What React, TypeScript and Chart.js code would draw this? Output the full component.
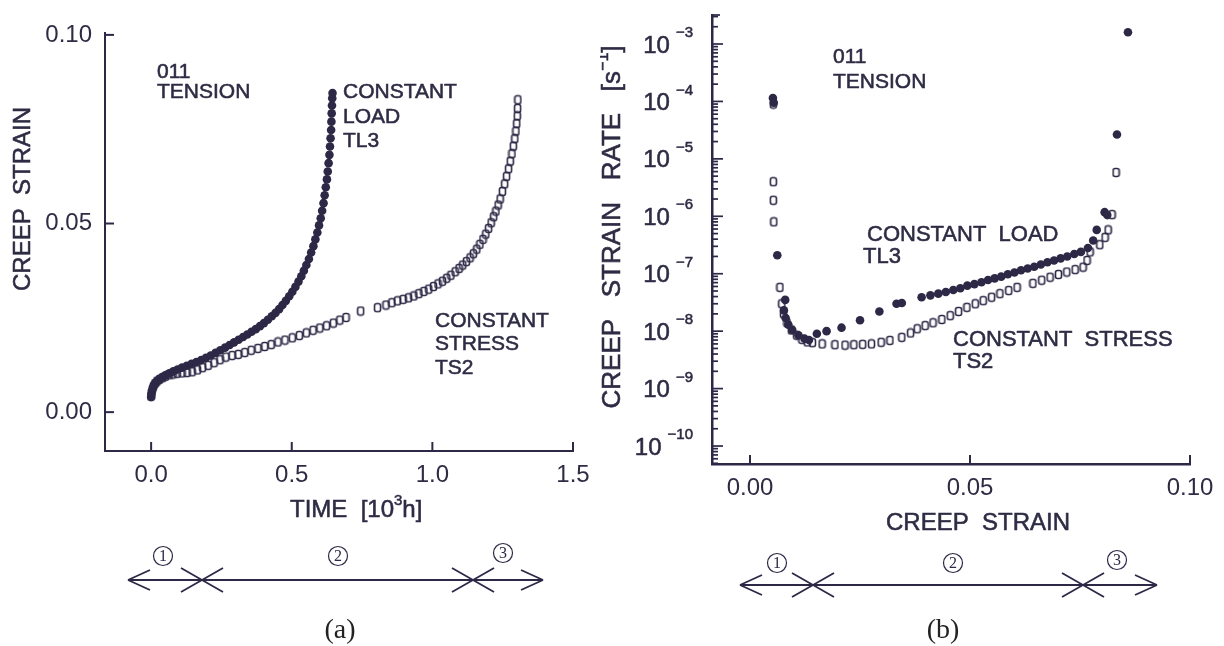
import { useEffect, useRef } from 'react';
import { Chart, registerables } from 'chart.js';

Chart.register(...registerables);

const INK = '#2c2846';
const TEXT = '#2e2c44';
const SANS = '"Liberation Sans", Arial, Helvetica, sans-serif';
const SERIF = '"Liberation Serif", "Times New Roman", serif';

// ---------- (a) creep strain vs time [10^3 h] ----------
const timeTicks = [0, 0.5, 1.0, 1.5];
const strainTicks = [0, 0.05, 0.1];

// constant load, TL3: [time, creep strain]
const loadCurve: [number, number][] = [
  [0.000, 0.0040], [0.001, 0.0048], [0.003, 0.0056], [0.006, 0.0064], [0.010, 0.0071],
  [0.015, 0.0077], [0.022, 0.0083], [0.031, 0.0088], [0.041, 0.0093], [0.052, 0.0098],
  [0.065, 0.0103], [0.079, 0.0108], [0.094, 0.0113], [0.110, 0.0118], [0.127, 0.0123],
  [0.144, 0.0128], [0.161, 0.0133], [0.178, 0.0138], [0.195, 0.0144], [0.212, 0.0150],
  [0.229, 0.0157], [0.246, 0.0164], [0.263, 0.0171], [0.279, 0.0178], [0.295, 0.0185],
  [0.311, 0.0192], [0.327, 0.0199], [0.342, 0.0206], [0.357, 0.0213], [0.372, 0.0220],
  [0.387, 0.0228], [0.401, 0.0236], [0.415, 0.0245], [0.429, 0.0254], [0.442, 0.0263],
  [0.455, 0.0273], [0.467, 0.0284], [0.479, 0.0295], [0.491, 0.0307], [0.502, 0.0319],
  [0.513, 0.0332], [0.524, 0.0346], [0.534, 0.0360], [0.543, 0.0375], [0.552, 0.0390],
  [0.561, 0.0406], [0.569, 0.0423], [0.577, 0.0440], [0.584, 0.0458], [0.591, 0.0476],
  [0.597, 0.0495], [0.603, 0.0514], [0.608, 0.0534], [0.613, 0.0554], [0.617, 0.0575],
  [0.621, 0.0596], [0.625, 0.0617], [0.628, 0.0638], [0.631, 0.0660], [0.634, 0.0682],
  [0.636, 0.0704], [0.638, 0.0726], [0.640, 0.0748], [0.641, 0.0770], [0.642, 0.0792],
  [0.643, 0.0813], [0.644, 0.0832], [0.645, 0.0846],
];

// constant stress, TS2: [time, creep strain]
const stressCurve: [number, number][] = [
  [0.000, 0.0042], [0.002, 0.0052], [0.005, 0.0061], [0.009, 0.0069], [0.014, 0.0076],
  [0.021, 0.0082], [0.030, 0.0087], [0.040, 0.0091], [0.051, 0.0095], [0.064, 0.0099],
  [0.078, 0.0101], [0.093, 0.0103], [0.110, 0.0104], [0.128, 0.0105], [0.146, 0.0107],
  [0.165, 0.0112], [0.183, 0.0118], [0.203, 0.0124], [0.224, 0.0131], [0.245, 0.0139],
  [0.266, 0.0146], [0.288, 0.0150], [0.310, 0.0153], [0.333, 0.0158], [0.356, 0.0164],
  [0.380, 0.0169], [0.404, 0.0174], [0.427, 0.0179], [0.451, 0.0186], [0.476, 0.0191],
  [0.502, 0.0197], [0.527, 0.0203], [0.552, 0.0210], [0.576, 0.0217], [0.600, 0.0223],
  [0.624, 0.0229], [0.648, 0.0236], [0.671, 0.0244], [0.693, 0.0251], [0.745, 0.0268],
  [0.805, 0.0277], [0.835, 0.0284], [0.856, 0.0290], [0.876, 0.0295], [0.896, 0.0299],
  [0.915, 0.0303], [0.934, 0.0308], [0.952, 0.0314], [0.970, 0.0320], [0.987, 0.0326],
  [1.004, 0.0333], [1.020, 0.0340], [1.036, 0.0347], [1.051, 0.0355], [1.066, 0.0363],
  [1.081, 0.0372], [1.095, 0.0381], [1.108, 0.0390], [1.121, 0.0399], [1.134, 0.0409],
  [1.146, 0.0420], [1.158, 0.0432], [1.169, 0.0445], [1.180, 0.0458], [1.190, 0.0472],
  [1.200, 0.0487], [1.209, 0.0502], [1.218, 0.0518], [1.226, 0.0533], [1.234, 0.0549],
  [1.241, 0.0565], [1.249, 0.0585], [1.257, 0.0605], [1.264, 0.0625], [1.271, 0.0645],
  [1.277, 0.0665], [1.283, 0.0685], [1.288, 0.0705], [1.293, 0.0725], [1.297, 0.0745],
  [1.300, 0.0765], [1.302, 0.0785], [1.303, 0.0805], [1.304, 0.0828],
];

// ---------- (b) creep strain rate [1/s] vs creep strain ----------
const rateStrainTicks = [0, 0.05, 0.1];
const rateDecades = [-3, -4, -5, -6, -7, -8, -9, -10];

// constant load, TL3: [creep strain, strain rate]
const loadRate: [number, number][] = [
  [0.0052, 1.15e-4], [0.0054, 9.5e-5], [0.0062, 2.1e-7], [0.0080, 3.5e-8], [0.0077, 2.3e-8],
  [0.0081, 1.7e-8], [0.0087, 1.3e-8], [0.0096, 1.05e-8], [0.0110, 8.5e-9], [0.0124, 7.4e-9],
  [0.0134, 7.0e-9], [0.0152, 9.0e-9], [0.0174, 1.0e-8], [0.0208, 1.15e-8], [0.0250, 1.55e-8],
  [0.0294, 2.2e-8], [0.0333, 3.0e-8], [0.0345, 3.1e-8], [0.0390, 3.9e-8], [0.0410, 4.2e-8],
  [0.0428, 4.5e-8], [0.0445, 4.8e-8], [0.0462, 5.2e-8], [0.0478, 5.6e-8], [0.0494, 6.2e-8],
  [0.0510, 6.6e-8], [0.0526, 7.1e-8], [0.0541, 7.8e-8], [0.0556, 8.3e-8], [0.0571, 8.9e-8],
  [0.0586, 9.8e-8], [0.0601, 1.05e-7], [0.0616, 1.15e-7], [0.0631, 1.23e-7], [0.0646, 1.32e-7],
  [0.0661, 1.45e-7], [0.0676, 1.58e-7], [0.0691, 1.7e-7], [0.0706, 1.85e-7], [0.0721, 2.0e-7],
  [0.0737, 2.2e-7], [0.0752, 2.4e-7], [0.0768, 2.8e-7], [0.0780, 3.8e-7], [0.0788, 5.8e-7],
  [0.0806, 1.18e-6], [0.0812, 1.05e-6], [0.0834, 2.66e-5], [0.0859, 1.6e-3],
];

// constant stress, TS2: [creep strain, strain rate]
const stressRate: [number, number][] = [
  [0.0053, 9.0e-5], [0.0053, 4.0e-6], [0.0053, 1.9e-6], [0.0054, 8.0e-7], [0.0068, 5.8e-8],
  [0.0072, 3.0e-8], [0.0076, 2.0e-8], [0.0084, 1.4e-8], [0.0094, 1.05e-8], [0.0106, 8.5e-9],
  [0.0118, 7.2e-9], [0.0130, 6.5e-9], [0.0142, 6.3e-9], [0.0164, 6.0e-9], [0.0193, 5.8e-9],
  [0.0216, 5.7e-9], [0.0236, 5.8e-9], [0.0256, 5.9e-9], [0.0276, 6.0e-9], [0.0298, 6.4e-9],
  [0.0318, 6.9e-9], [0.0345, 7.8e-9], [0.0365, 9.3e-9], [0.0380, 1.1e-8], [0.0398, 1.25e-8],
  [0.0416, 1.4e-8], [0.0436, 1.6e-8], [0.0455, 1.86e-8], [0.0474, 2.2e-8], [0.0493, 2.6e-8],
  [0.0512, 3.0e-8], [0.0530, 3.4e-8], [0.0549, 3.9e-8], [0.0568, 4.5e-8], [0.0588, 5.1e-8],
  [0.0607, 5.8e-8], [0.0643, 6.8e-8], [0.0663, 7.7e-8], [0.0682, 8.7e-8], [0.0701, 9.7e-8],
  [0.0720, 1.07e-7], [0.0739, 1.18e-7], [0.0757, 1.3e-7], [0.0766, 1.7e-7], [0.0773, 2.4e-7],
  [0.0795, 3.2e-7], [0.0807, 4.3e-7], [0.0814, 5.8e-7], [0.0823, 1.07e-6], [0.0832, 5.8e-6],
];

type Ctx = CanvasRenderingContext2D;
type Part = { s: string; sup?: boolean };

function text(ctx: Ctx, s: string, x: number, y: number, size: number,
  align: CanvasTextAlign = 'left', font = SANS, color = TEXT, weight = 0.55) {
  ctx.font = `${size}px ${font}`;
  ctx.textAlign = align;
  ctx.textBaseline = 'middle';
  ctx.fillStyle = color;
  ctx.fillText(s, x, y);
  if (weight > 0) {
    ctx.lineWidth = weight;
    ctx.strokeStyle = color;
    ctx.strokeText(s, x, y);
  }
}

function seg(ctx: Ctx, x1: number, y1: number, x2: number, y2: number) {
  ctx.beginPath();
  ctx.moveTo(x1, y1);
  ctx.lineTo(x2, y2);
  ctx.stroke();
}

function richWidth(ctx: Ctx, parts: Part[], size: number) {
  let w = 0;
  for (const p of parts) {
    const sz = p.sup ? Math.round(size * 0.62) : size;
    ctx.font = `${sz}px ${SANS}`;
    w += ctx.measureText(p.s).width;
  }
  return w;
}

// Text pieces (normal / superscript) laid out from x, vertically centred on y.
function richText(ctx: Ctx, parts: Part[], x: number, y: number, size: number) {
  let cx = x;
  for (const p of parts) {
    const sz = p.sup ? Math.round(size * 0.62) : size;
    text(ctx, p.s, cx, p.sup ? y - size * 0.38 : y, sz);
    ctx.font = `${sz}px ${SANS}`;
    cx += ctx.measureText(p.s).width;
  }
}

// Stage bar: double arrow split into primary / secondary / tertiary creep,
// each stage numbered in a small circle
function stageBar(ctx: Ctx, left: number, c1: number, c2: number, right: number, y: number,
  marks: [number, number][]) {
  ctx.save();
  ctx.strokeStyle = INK;
  ctx.lineWidth = 1.8;
  seg(ctx, left, y, right, y);
  seg(ctx, left, y, left + 22, y - 10);
  seg(ctx, left, y, left + 22, y + 10);
  seg(ctx, right, y, right - 22, y - 10);
  seg(ctx, right, y, right - 22, y + 10);
  for (const c of [c1, c2]) {
    seg(ctx, c - 21, y - 12, c + 21, y + 12);
    seg(ctx, c - 21, y + 12, c + 21, y - 12);
  }
  marks.forEach(([mx, my], i) => {
    ctx.lineWidth = 1.2;
    ctx.beginPath();
    ctx.arc(mx, my, 9.5, 0, Math.PI * 2);
    ctx.stroke();
    text(ctx, String(i + 1), mx, my + 1, 16, 'center', SERIF, INK, 0);
  });
  ctx.restore();
}

// Hollow, slightly tall rounded box used for the constant-stress markers
function hollowBox(): HTMLCanvasElement {
  const c = document.createElement('canvas');
  c.width = 9;
  c.height = 11;
  const g = c.getContext('2d')!;
  g.strokeStyle = INK;
  g.lineWidth = 1.6;
  g.beginPath();
  (g as any).roundRect(1.5, 1.5, 6, 8, 2);
  g.stroke();
  return c;
}

const panelA = {
  id: 'panelA',
  afterDraw(chart: any) {
    const ctx: Ctx = chart.ctx;
    const xs = chart.scales.x;
    const ys = chart.scales.y;
    const { left, bottom } = chart.chartArea;
    ctx.save();
    ctx.strokeStyle = INK;
    ctx.lineWidth = 2;
    timeTicks.forEach((v) => { const p = xs.getPixelForValue(v); seg(ctx, p, bottom, p, bottom - 9); });
    strainTicks.forEach((v) => { const p = ys.getPixelForValue(v); seg(ctx, left, p, left + 9, p); });

    text(ctx, '011', 157, 72, 21);
    text(ctx, 'TENSION', 157, 92, 21);
    text(ctx, 'CONSTANT', 343, 92, 21);
    text(ctx, 'LOAD', 343, 117, 21);
    text(ctx, 'TL3', 343, 141, 21);
    text(ctx, 'CONSTANT', 435, 321, 21);
    text(ctx, 'STRESS', 435, 344, 21);
    text(ctx, 'TS2', 435, 368, 21);

    // y-axis title
    ctx.save();
    ctx.translate(23, 199);
    ctx.rotate(-Math.PI / 2);
    text(ctx, 'CREEP  STRAIN', 0, 0, 24, 'center');
    ctx.restore();

    // x-axis title
    richText(ctx, [{ s: 'TIME  [10' }, { s: '3', sup: true }, { s: 'h]' }], 290, 510, 24);

    stageBar(ctx, 128, 202, 473, 543, 580, [[163, 556], [338, 556], [503, 553]]);
    text(ctx, '(a)', 340, 631, 28, 'center', SERIF, '#222', 0);
    ctx.restore();
  },
};

const panelB = {
  id: 'panelB',
  afterDraw(chart: any) {
    const ctx: Ctx = chart.ctx;
    const xs = chart.scales.x;
    const ys = chart.scales.y;
    const { left, top, bottom } = chart.chartArea;
    ctx.save();
    ctx.strokeStyle = INK;
    ctx.lineWidth = 2;
    rateStrainTicks.forEach((v) => { const p = xs.getPixelForValue(v); seg(ctx, p, bottom, p, bottom - 9); });
    ctx.lineWidth = 1.7;
    seg(ctx, left, top, left + 8, top);
    for (let d = -11; d <= -3; d++) {
      for (let m = 1; m <= 9; m++) {
        const v = m * Math.pow(10, d);
        if (v < ys.min || v > ys.max) continue;
        const p = ys.getPixelForValue(v);
        seg(ctx, left, p, left + (m === 1 ? 11 : 6), p);
      }
    }

    // decade labels 10^n
    rateDecades.forEach((d) => {
      const p = ys.getPixelForValue(Math.pow(10, d));
      const exp = '\u2212' + String(-d);
      ctx.font = `15px ${SANS}`;
      const ew = ctx.measureText(exp).width;
      const expLeft = 93 - ew;
      text(ctx, exp, expLeft, p - 11, 15);
      text(ctx, '10', expLeft - 6, p + 2, 24, 'right');
    });

    text(ctx, '011', 233, 57, 21);
    text(ctx, 'TENSION', 233, 82, 21);
    text(ctx, 'CONSTANT  LOAD', 267, 235, 22);
    text(ctx, 'TL3', 263, 257, 22);
    text(ctx, 'CONSTANT  STRESS', 353, 340, 22);
    text(ctx, 'TS2', 353, 362, 22);

    // y-axis title
    const yParts: Part[] = [{ s: 'CREEP   STRAIN   RATE   [s' }, { s: '\u22121', sup: true }, { s: ']' }];
    ctx.save();
    ctx.translate(13, 227);
    ctx.rotate(-Math.PI / 2);
    const w = richWidth(ctx, yParts, 26);
    richText(ctx, yParts, -w / 2, 0, 26);
    ctx.restore();

    text(ctx, 'CREEP  STRAIN', 378, 523, 24, 'center');

    stageBar(ctx, 140, 213, 483, 557, 585, [[177, 563], [353, 563], [517, 560]]);
    text(ctx, '(b)', 343, 631, 28, 'center', SERIF, '#222', 0);
    ctx.restore();
  },
};

const tickFont = { family: SANS, size: 24 };

function zeroPad(s: any) {
  s.paddingLeft = 0;
  s.paddingRight = 0;
  s.paddingTop = 0;
  s.paddingBottom = 0;
}

function datasets(load: [number, number][], stress: [number, number][], box: HTMLCanvasElement) {
  return [
    {
      label: 'CONSTANT LOAD TL3',
      data: load.map(([x, y]) => ({ x, y })),
      pointStyle: 'circle',
      pointRadius: 4.3,
      backgroundColor: INK,
      borderColor: INK,
      borderWidth: 0,
    },
    {
      label: 'CONSTANT STRESS TS2',
      data: stress.map(([x, y]) => ({ x, y })),
      pointStyle: box,
      pointRadius: 4,
      backgroundColor: '#ffffff',
      borderColor: INK,
      borderWidth: 1.4,
    },
  ];
}

function makeA(canvas: HTMLCanvasElement, box: HTMLCanvasElement) {
  return new Chart(canvas, {
    type: 'scatter',
    data: { datasets: datasets(loadCurve, stressCurve, box) },
    options: {
      responsive: false,
      animation: false,
      events: [],
      layout: { padding: { top: 33, right: 27, left: 0, bottom: 0 } },
      plugins: { legend: { display: false }, tooltip: { enabled: false } },
      scales: {
        x: {
          type: 'linear',
          min: -0.164,
          max: 1.5,
          afterBuildTicks: (s: any) => { s.ticks = timeTicks.map((value) => ({ value })); },
          afterFit: (s: any) => { s.height = 195; zeroPad(s); },
          grid: { display: false, drawTicks: false },
          border: { display: true, color: INK, width: 2 },
          ticks: {
            color: TEXT, font: tickFont, padding: 10, maxRotation: 0, autoSkip: false,
            callback: (v: any) => Number(v).toFixed(1),
          },
        },
        y: {
          type: 'linear',
          min: -0.0103,
          max: 0.1005,
          afterBuildTicks: (s: any) => { s.ticks = strainTicks.map((value) => ({ value })); },
          afterFit: (s: any) => { s.width = 105; zeroPad(s); },
          grid: { display: false, drawTicks: false },
          border: { display: true, color: INK, width: 2 },
          ticks: {
            color: TEXT, font: tickFont, padding: 13, autoSkip: false,
            callback: (v: any) => Number(v).toFixed(2),
          },
        },
      },
    },
    plugins: [panelA],
  } as any);
}

function makeB(canvas: HTMLCanvasElement, box: HTMLCanvasElement) {
  return new Chart(canvas, {
    type: 'scatter',
    data: { datasets: datasets(loadRate, stressRate, box) },
    options: {
      responsive: false,
      animation: false,
      events: [],
      layout: { padding: { top: 15, right: 34, left: 0, bottom: 0 } },
      plugins: { legend: { display: false }, tooltip: { enabled: false } },
      scales: {
        x: {
          type: 'linear',
          min: -0.00864,
          max: 0.1,
          afterBuildTicks: (s: any) => { s.ticks = rateStrainTicks.map((value) => ({ value })); },
          afterFit: (s: any) => { s.height = 182; zeroPad(s); },
          grid: { display: false, drawTicks: false },
          border: { display: true, color: INK, width: 2.5 },
          ticks: {
            color: TEXT, font: tickFont, padding: 10, maxRotation: 0, autoSkip: false,
            callback: (v: any) => Number(v).toFixed(2),
          },
        },
        y: {
          type: 'logarithmic',
          min: Math.pow(10, -10.313),
          max: Math.pow(10, -2.495),
          afterBuildTicks: (s: any) => { s.ticks = rateDecades.map((d) => ({ value: Math.pow(10, d) })); },
          afterFit: (s: any) => { s.width = 112; zeroPad(s); },
          grid: { display: false, drawTicks: false },
          border: { display: true, color: INK, width: 2.5 },
          ticks: { display: false },
        },
      },
    },
    plugins: [panelB],
  } as any);
}

export default function App() {
  const refA = useRef<HTMLCanvasElement>(null);
  const refB = useRef<HTMLCanvasElement>(null);

  useEffect(() => {
    const box = hollowBox();
    const a = makeA(refA.current!, box);
    const b = makeB(refB.current!, box);
    return () => {
      a.destroy();
      b.destroy();
    };
  }, []);

  return (
    <div style={{ position: 'fixed', left: 0, top: 0, width: 1224, height: 646, background: '#ffffff', overflow: 'hidden' }}>
      <canvas ref={refA} width={600} height={646}
        style={{ position: 'absolute', left: 0, top: 0, width: 600, height: 646 }} />
      <canvas ref={refB} width={624} height={646}
        style={{ position: 'absolute', left: 600, top: 0, width: 624, height: 646 }} />
    </div>
  );
}
